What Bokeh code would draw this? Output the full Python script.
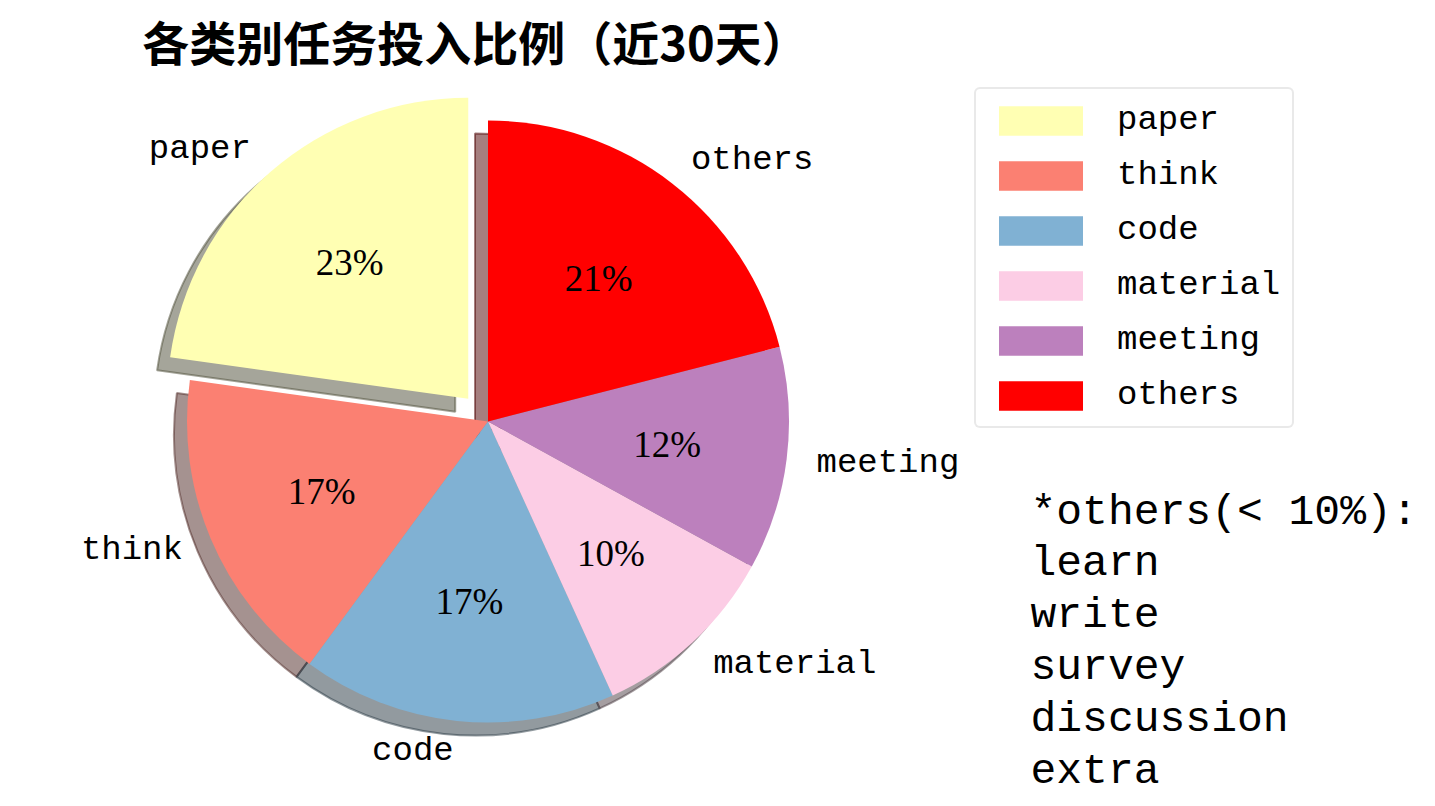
import numpy as np
from bokeh.plotting import figure
from bokeh.models import ColumnDataSource, Range1d, Label
from bokeh.core.properties import value
from bokeh.embed import file_html
from bokeh.resources import INLINE

# ---- data ----
labels = ["paper", "think", "code", "material", "meeting", "others"]
shares = [22.8, 17.1, 16.9, 10.2, 12.0, 21.0]
colors = ["#ffffb3", "#fb8072", "#80b1d3", "#fccde5", "#bc80bd", "#ff0000"]
explode = [0.1, 0, 0, 0, 0, 0]
title_text = "各类别任务投入比例（近30天）"
note_lines = ["*others(< 10%):", "learn", "write", "survey", "discussion", "extra"]

# ---- geometry (pixel layout) ----
W, H = 1419, 798
R_PX = 301.0
CX, CY = 487.5, 421.0  # pie centre in figure pixels (from top-left)
SH = 13.0 / R_PX        # shadow offset in data units

vals = np.array(shares, dtype=float)
frac = vals / vals.sum()
start_deg = 90.0
cum = np.concatenate([[0], np.cumsum(frac)])
starts = np.deg2rad(start_deg + 360 * cum[:-1])
ends = np.deg2rad(start_deg + 360 * cum[1:])
mids = (starts + ends) / 2
ex = np.array(explode)
xs = ex * np.cos(mids)
ys = ex * np.sin(mids)

def dark(c):
    c = c.lstrip("#")
    r, g, b = (int(c[i:i + 2], 16) for i in (0, 2, 4))
    return "#%02x%02x%02x" % (int(r * 0.3), int(g * 0.3), int(b * 0.3))

src = ColumnDataSource(dict(x=xs, y=ys, start=starts, end=ends, color=colors,
                            label=labels, sx=xs - SH, sy=ys - SH,
                            scolor=[dark(c) for c in colors]))

p = figure(width=W, height=H, output_backend="svg", toolbar_location=None,
           x_range=Range1d(-CX / R_PX, (W - CX) / R_PX),
           y_range=Range1d(-(H - CY) / R_PX, CY / R_PX),
           min_border=0)
p.axis.visible = False
p.grid.visible = False
p.outline_line_color = None
p.background_fill_color = "white"

# shadows
p.wedge(x="sx", y="sy", radius=1.0, start_angle="start", end_angle="end",
        fill_color="scolor", fill_alpha=0.5, line_color="scolor", line_alpha=0.5,
        line_width=2, source=src)
# wedges
p.wedge(x="x", y="y", radius=1.0, start_angle="start", end_angle="end",
        fill_color="color", line_color=None, legend_field="label", source=src)

# outer labels
lx = xs + 1.1 * np.cos(mids)
ly = ys + 1.1 * np.sin(mids)
align = ["left" if v > 0 else "right" for v in np.cos(mids)]
lsrc = ColumnDataSource(dict(x=lx, y=ly, t=labels, a=align))
p.text(x="x", y="y", text="t", text_align="a", text_baseline="middle",
       text_font=value("Liberation Mono"), text_font_size="34px",
       text_color="black", source=lsrc)

# percentage labels
px_ = xs + 0.6 * np.cos(mids)
py_ = ys + 0.6 * np.sin(mids)
pct = ["%.0f%%" % (f * 100) for f in frac]
psrc = ColumnDataSource(dict(x=px_, y=py_, t=pct))
p.text(x="x", y="y", text="t", text_align="center", text_baseline="middle",
       text_font=value("Liberation Serif"), text_font_size="37px",
       text_color="black", source=psrc)

# title
p.add_layout(Label(x=475, y=H - 40, x_units="screen", y_units="screen",
                   text=title_text, text_align="center", text_baseline="middle",
                   text_font="Noto Sans CJK SC", text_font_style="bold",
                   text_font_size="47px", text_color="black"))

# note text
p.add_layout(Label(x=1030, y=H - 487, x_units="screen", y_units="screen",
                   text="\n".join(note_lines), text_align="left",
                   text_baseline="top", text_line_height=1.06,
                   text_font="Liberation Mono", text_font_size="43px",
                   text_color="black"))

# legend
lg = p.legend[0]
lg.location = (974, H - 428)
lg.glyph_width = 105
lg.glyph_height = 37
lg.label_height = 37
lg.spacing = 17
lg.padding = 12
lg.margin = 0
lg.label_standoff = 24
lg.label_text_font = "Liberation Mono"
lg.label_text_font_size = "34px"
lg.label_text_color = "black"
lg.border_line_color = "#d3d3d3"
lg.border_line_width = 2
lg.border_radius = 6
lg.background_fill_color = "white"
lg.background_fill_alpha = 1.0

open("out.html", "w").write(file_html(p, INLINE))
